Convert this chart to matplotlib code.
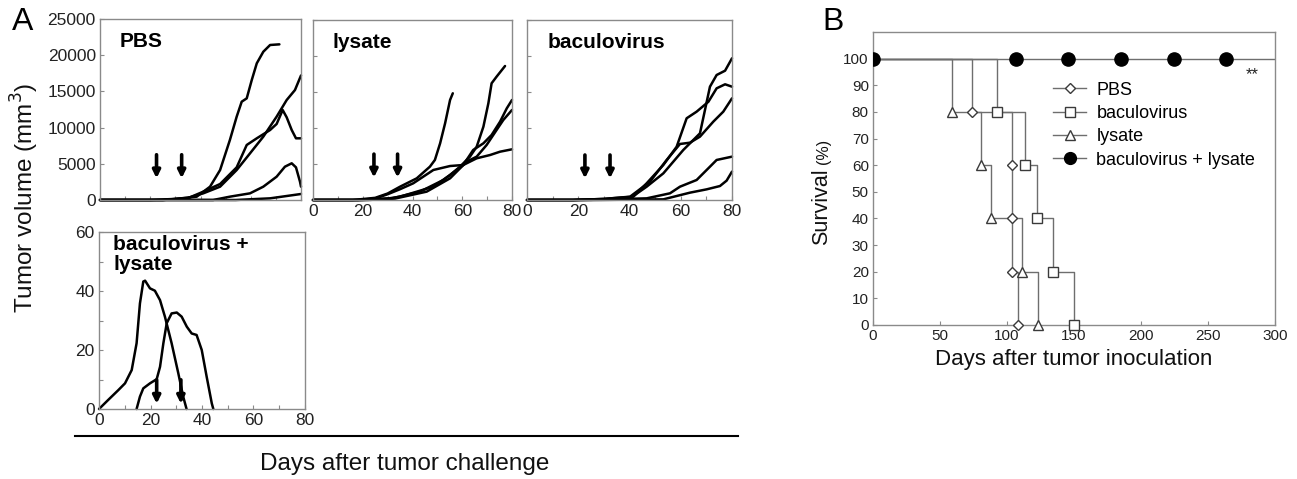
import matplotlib
matplotlib.use("Agg")
import matplotlib.pyplot as plt
from matplotlib.lines import Line2D

plt.rcParams['font.family'] = ['Liberation Sans', 'DejaVu Sans']

# ---- panel A data (days, tumor volume mm3) ----
pbs_days = [
    [0, 20, 30, 38.5, 43.8, 47.8, 51.7, 54.4, 56.4, 58.4, 60.4, 62.4, 65.0, 67.7, 71.4],
    [0, 25, 35, 41.1, 47.8, 54.4, 59.7, 65.0, 70.3, 74.3, 77.6, 80],
    [0, 25, 35, 41.1, 47.8, 54.4, 58.4, 62.4, 67.7, 70.3, 72.7, 74.3, 76.3, 78.0, 80],
    [0, 45, 51.7, 59.7, 65.0, 70.3, 73.6, 76.3, 78.0, 79.6, 80],
    [0, 54, 67.7, 80],
]
pbs_vol = [
    [0, 0, 150, 460, 1840, 4140, 8290, 11510, 13580, 14040, 16570, 18880, 20480, 21410, 21500],
    [0, 0, 300, 920, 1840, 4140, 6440, 8750, 11510, 13810, 15190, 17200],
    [0, 0, 250, 1150, 2210, 4510, 7600, 8520, 9670, 10500, 12430, 11420, 9670, 8520, 8520],
    [0, 0, 460, 920, 1840, 3220, 4600, 5070, 4510, 2530, 1840],
    [0, 0, 230, 830],
]

lys_days = [
    [0, 16, 25, 30, 35, 41.7, 47.0, 49.0, 51.1, 53.1, 55.1, 56.2],
    [0, 18, 30, 35, 48.4, 55.1, 59.1, 63.1, 65.8, 68.5, 70.5, 71.8, 73.8, 77.2],
    [0, 20, 32, 43.0, 52.4, 60.4, 64.4, 68.5, 71.8, 75.2, 77.9, 80],
    [0, 22, 33, 45.7, 55.1, 61.8, 65.8, 69.8, 73.8, 76.5, 80],
    [0, 18, 25, 30, 35, 40.3, 48.4, 55.1, 60.4, 65.8, 71.2, 75.2, 80],
]
lys_vol = [
    [0, 0, 300, 900, 1850, 3010, 4630, 5560, 7870, 10650, 13890, 14820],
    [0, 0, 200, 460, 1850, 3470, 4630, 6020, 7400, 10180, 13430, 16210, 17130, 18610],
    [0, 0, 250, 1160, 2780, 4860, 6950, 7870, 9030, 10880, 12730, 13890],
    [0, 0, 200, 1160, 3010, 5330, 6020, 7640, 9720, 11110, 12500],
    [0, 0, 200, 800, 1500, 2320, 4170, 4720, 4860, 5790, 6250, 6710, 7040],
]

bac_days = [
    [0, 18, 30, 40.2, 46.7, 53.2, 61.0, 67.5, 71.4, 74.0, 77.3, 80],
    [0, 18, 30, 41.5, 46.7, 53.2, 58.4, 62.3, 66.2, 70.8, 74.0, 77.3, 80],
    [0, 18, 30, 40.2, 48.0, 54.5, 59.7, 63.6, 67.5, 72.7, 76.6, 80],
    [0, 22, 46.7, 55.8, 59.7, 66.2, 71.4, 74.0, 80],
    [0, 25, 53.2, 63.6, 70.1, 75.3, 77.9, 80],
]
bac_vol = [
    [0, 0, 100, 230, 1850, 3700, 6950, 9260, 15740, 17360, 17960, 19680],
    [0, 0, 150, 460, 2320, 4860, 7400, 11350, 12270, 13650, 15510, 16070, 15740],
    [0, 0, 150, 460, 2550, 5560, 7780, 7960, 8800, 10880, 12270, 14120],
    [0, 0, 230, 930, 1850, 2780, 4630, 5560, 6020],
    [0, 0, 90, 1020, 1480, 1940, 2690, 3940],
]

combo_days = [
    [0, 3.6, 7.5, 10.1, 12.7, 14.6, 15.9, 17.2, 17.9, 19.8, 21.7, 23.7, 25.6, 28.2, 30.8, 32.7, 34.0],
    [14.6, 15.9, 17.2, 19.8, 22.4, 23.7, 25.0, 26.3, 28.2, 30.2, 32.1, 34.1, 36.0, 37.9, 39.9, 41.8, 43.8, 44.4],
]
combo_vol = [
    [0, 3.1, 6.4, 8.7, 13.2, 22.3, 35.8, 43.2, 43.5, 40.9, 40.1, 36.9, 31.3, 22.3, 12.1, 4.2, 0],
    [0, 4.2, 7.0, 8.7, 10.1, 14.3, 22.3, 29.1, 32.4, 32.7, 31.3, 27.9, 25.6, 25.1, 20.0, 11.0, 1.9, 0],
]

# vaccination days (arrows) as drawn in each panel
pbs_arrows = [22.5, 32.5]
lys_arrows = [24.5, 34.0]
bac_arrows = [22.6, 32.4]
combo_arrows = [22.4, 31.8]

# ---- panel B data (Kaplan-Meier) ----
km_pbs_t = [0, 73.6, 103.5, 103.5, 103.5, 108]
km_pbs_s = [100, 80, 60, 40, 20, 0]
km_bac_t = [0, 92.3, 113.4, 122.4, 134.3, 150.2]
km_bac_s = [100, 80, 60, 40, 20, 0]
km_lys_t = [0, 59.2, 80.3, 88.0, 111.0, 123.4]
km_lys_s = [100, 80, 60, 40, 20, 0]
km_combo_marks = [0, 106.5, 145.3, 185, 224.6, 263.4]
km_combo_end = 300

W, H = 1297, 479
fig = plt.figure(figsize=(W / 100, H / 100), dpi=100)


def box(x0, y0, x1, y1):
    return [x0 / W, 1 - y1 / H, (x1 - x0) / W, (y1 - y0) / H]


spine_c = '#8a8a8a'
tick_c = '#222222'


def style(ax):
    for s in ax.spines.values():
        s.set_color(spine_c)
        s.set_linewidth(1.0)
    ax.tick_params(direction='in', length=3, width=0.8, color=spine_c,
                   labelsize=12.5, labelcolor=tick_c, pad=3)
    ax.tick_params(which='minor', direction='in', length=3, width=0.8, color=spine_c)


def growth_panel(ax, days, vols, arrows, title, ymax, yticks, arrow_span):
    for d, v in zip(days, vols):
        ax.plot(d, v, color='black', lw=1.8, solid_joinstyle='round',
                solid_capstyle='round', clip_on=False)
    for a in arrows:
        ax.annotate('', xy=(a, arrow_span[1]), xytext=(a, arrow_span[0]),
                    xycoords=('data', 'axes fraction'),
                    textcoords=('data', 'axes fraction'),
                    arrowprops=dict(arrowstyle='-|>', color='black', lw=2.6,
                                    mutation_scale=11, shrinkA=0, shrinkB=0))
    ax.set_xlim(0, 80)
    ax.set_ylim(0, ymax)
    ax.set_yticks(yticks)
    ax.set_xticks([0, 20, 40, 60, 80])
    ax.set_xticks([10, 30, 50, 70], minor=True)
    ax.text(0.1, 0.93, title, transform=ax.transAxes, fontsize=15,
            fontweight='bold', va='top', ha='left', linespacing=1.1)
    style(ax)


ax1 = fig.add_axes(box(100, 19, 301, 200))
growth_panel(ax1, pbs_days, pbs_vol, pbs_arrows, 'PBS', 25000,
             [0, 5000, 10000, 15000, 20000, 25000], (0.25, 0.12))
ax1.set_xticklabels([])

ax2 = fig.add_axes(box(313, 20, 512, 200))
growth_panel(ax2, lys_days, lys_vol, lys_arrows, 'lysate', 25000,
             [0, 5000, 10000, 15000, 20000, 25000], (0.255, 0.125))
ax2.set_yticklabels([])

ax3 = fig.add_axes(box(527, 20, 732, 200))
growth_panel(ax3, bac_days, bac_vol, bac_arrows, 'baculovirus', 25000,
             [0, 5000, 10000, 15000, 20000, 25000], (0.25, 0.12))
ax3.set_yticklabels([])

ax4 = fig.add_axes(box(99, 232, 305, 409))
growth_panel(ax4, combo_days, combo_vol, combo_arrows, 'baculovirus +\nlysate', 60,
             [0, 20, 40, 60], (0.165, 0.03))
ax4.set_yticks([10, 30, 50], minor=True)
ax4.texts[-1].set_position((0.07, 0.985))

fig.text(25 / W, 1 - 198 / H, 'Tumor volume (mm$^3$)', rotation=90,
         fontsize=17.5, ha='center', va='center', color='#111111')
fig.text(405 / W, 1 - 464 / H, 'Days after tumor challenge', fontsize=17.5,
         ha='center', va='center', color='#111111')
fig.add_artist(Line2D([75 / W, 738 / W], [1 - 436 / H, 1 - 436 / H],
                      transform=fig.transFigure, color='black', lw=1.5))

# ---- panel B ----
axb = fig.add_axes(box(873, 32, 1275, 325))
line_c = '#6e6e6e'
edge_c = '#3a3a3a'
axb.plot([0, km_combo_end], [100, 100], color=line_c, lw=1.0)
axb.plot(km_combo_marks, [100] * len(km_combo_marks), ls='none', marker='o',
         ms=9.5, color='black', zorder=5)
groups = [
    (km_pbs_t, km_pbs_s, 'D', 5.5, 'PBS'),
    (km_bac_t, km_bac_s, 's', 7, 'baculovirus'),
    (km_lys_t, km_lys_s, '^', 7, 'lysate'),
]
for t, s, m, ms, lab in groups:
    axb.step(t, s, where='post', color=line_c, lw=1.0)
    axb.plot(t[1:], s[1:], ls='none', marker=m, ms=ms, mfc='white',
             mec=edge_c, mew=1.0, zorder=4, clip_on=False)

handles = [Line2D([], [], color=line_c, lw=1.0, marker=m, ms=ms, mfc='white',
                  mec=edge_c, mew=1.0) for _, _, m, ms, _ in groups]
handles.append(Line2D([], [], color=line_c, lw=1.0, marker='o', ms=8.5,
                      mfc='black', mec='black'))
labels = [g[4] for g in groups] + ['baculovirus + lysate']
axb.legend(handles, labels, loc='upper left', bbox_to_anchor=(0.448, 0.83),
           frameon=False, fontsize=13, handlelength=1.85, handletextpad=0.55,
           labelspacing=0.35, borderpad=0, borderaxespad=0)
axb.text(283, 94, '**', fontsize=12, ha='center', va='center', color='#222222')

axb.set_xlim(0, 300)
axb.set_ylim(0, 110)
axb.set_xticks([0, 50, 100, 150, 200, 250, 300])
axb.set_yticks(range(0, 101, 10))
style(axb)
axb.tick_params(labelsize=11)
axb.set_xlabel('Days after tumor inoculation', fontsize=16, color='#111111',
               labelpad=4)
fig.text(822 / W, 1 - 207 / H, 'Survival', rotation=90, fontsize=15.5,
         ha='center', va='center', color='#111111')
fig.text(824 / W, 1 - 151 / H, '(%)', rotation=90, fontsize=11.5,
         ha='center', va='center', color='#111111')

fig.text(23 / W, 1 - 22 / H, 'A', fontsize=23, ha='center', va='center')
fig.text(833 / W, 1 - 22 / H, 'B', fontsize=23, ha='center', va='center')

fig.savefig('out.png', dpi=100)
